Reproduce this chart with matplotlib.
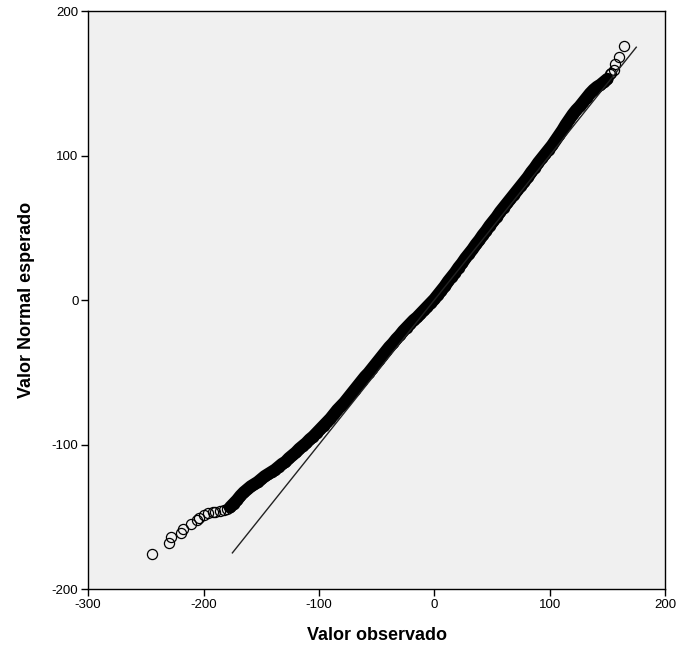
import matplotlib
matplotlib.use("Agg")
from matplotlib import pyplot as plt

plt.rcParams['font.family'] = ['Liberation Sans', 'DejaVu Sans']
plt.rcParams['axes.unicode_minus'] = False

# isolated points in the lower tail (observed, expected)
tail_low_obs = [-244.6, -230.3, -228.2, -219.3, -218.2, -210.7, -206.0, -203.5,
                -200.0, -195.8, -192.0, -190.0, -185.7, -182.0, -180.0]
tail_low_exp = [-176.0, -168.0, -164.0, -161.0, -158.7, -155.2, -152.5, -150.7,
                -148.8, -147.2, -146.8, -146.5, -146.0, -145.2, -144.8]

# dense body of the Q-Q plot
body_obs = [-177, -174, -171, -168, -165, -162, -159, -156, -153, -150,
            -147, -144, -141, -138, -135, -132, -129, -126, -123, -120,
            -117, -114, -111, -108, -105, -102, -99, -96, -93, -90,
            -87, -84, -81, -78, -75, -72, -69, -66, -63, -60,
            -57, -54, -51, -48, -45, -42, -39, -36, -33, -30,
            -27, -24, -21, -18, -15, -12, -9, -6, -3, 0,
            3, 6, 9, 12, 15, 18, 21, 24, 27, 30,
            33, 36, 39, 42, 45, 48, 51, 54, 57, 60,
            63, 66, 69, 72, 75, 78, 81, 84, 87, 90,
            93, 96, 99, 102, 105, 108, 111, 114, 117, 120,
            123, 126, 129, 132, 135, 138, 141, 144, 147, 150]
body_exp = [-143.5, -141, -138.5, -135.5, -133, -131, -129, -127.5, -126, -124,
            -122, -120.5, -119, -117.5, -115.5, -113.5, -112, -109.5, -107.5, -105.5,
            -103, -101, -99, -96.5, -94.5, -92, -89.5, -87, -84.5, -82,
            -79, -76, -73.5, -71, -68, -65, -62, -59, -56, -53,
            -50.5, -47.5, -44.5, -41.5, -38.5, -35.5, -32.5, -30, -27, -24.5,
            -21.5, -19, -16.5, -14, -12, -9.5, -7, -4.5, -2, 0.5,
            3.5, 6.5, 9.5, 13, 16, 19, 22.5, 25.5, 29, 32,
            35, 38.5, 41.5, 45, 48, 51.5, 54.5, 57.5, 61, 64,
            67, 70, 73, 76, 79, 82, 85, 88.5, 91.5, 95,
            98, 101, 104, 107, 110.5, 114, 117.5, 121.5, 125, 128.5,
            131.5, 134, 137, 140, 143, 145.5, 147.5, 149, 151, 153]

# isolated points in the upper tail
tail_high_obs = [152.6, 153.5, 155.4, 156.9, 159.8, 164.0]
tail_high_exp = [156.2, 157.5, 159.0, 163.1, 168.2, 175.8]

ref_line = [-175, 175]

fig = plt.figure(figsize=(6.78, 6.53), dpi=100)
ax = fig.add_axes([0.130, 0.098, 0.851, 0.885])
ax.set_facecolor('#f0f0f0')

# the body is thousands of overlapping circles -> solid band
ax.plot(body_obs, body_exp, color='black', lw=9, solid_capstyle='round', zorder=2)
all_obs = tail_low_obs + body_obs + tail_high_obs
all_exp = tail_low_exp + body_exp + tail_high_exp
ax.plot(all_obs, all_exp, linestyle='none', marker='o', markersize=7.3,
        markerfacecolor='none', markeredgecolor='black', markeredgewidth=0.9, zorder=3)

ax.plot(ref_line, ref_line, color='#222222', lw=1.0, zorder=4)

ax.set_xlim(-300, 200)
ax.set_ylim(-200, 200)
ax.set_xticks([-300, -200, -100, 0, 100, 200])
ax.set_yticks([-200, -100, 0, 100, 200])
ax.tick_params(direction='out', length=5, width=1, labelsize=9.5, pad=2, colors='black')
for s in ax.spines.values():
    s.set_linewidth(1.0)
    s.set_color('black')

ax.set_xlabel('Valor observado', fontsize=13, fontweight='bold', labelpad=12)
ax.set_ylabel('Valor Normal esperado', fontsize=13, fontweight='bold', labelpad=12)

fig.savefig('out.png', dpi=100, facecolor='white')
